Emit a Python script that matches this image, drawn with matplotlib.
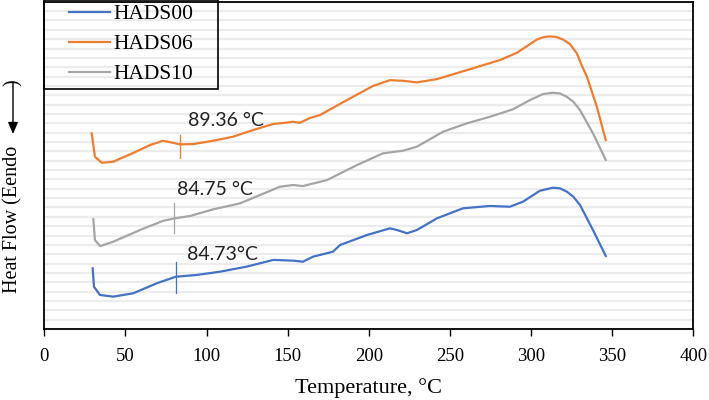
import matplotlib

matplotlib.use("Agg")
import matplotlib.pyplot as plt
from matplotlib.patches import Rectangle

# DSC curves (temperature in degC, heat flow in arbitrary units)
t_hads06 = [29.2, 31.2, 35.4, 42.3, 54.7, 65.1, 73.1, 79.3, 83.6, 91.6, 103.9, 116.3,
            128.6, 140.9, 145.2, 153.2, 157.5, 163.7, 169.9, 188.4, 202.5, 213.0, 221.0,
            229.6, 242.0, 260.4, 280.8, 291.2, 303.6, 307.9, 311.6, 315.3, 319.6, 323.9,
            328.2, 331.1, 334.4, 340.5, 346.0]
hf_hads06 = [20.93, 18.43, 17.78, 17.89, 18.82, 19.67, 20.13, 19.92, 19.75, 19.78, 20.13, 20.57,
             21.28, 21.92, 22.00, 22.16, 22.06, 22.57, 22.89, 24.67, 25.99, 26.62, 26.55,
             26.38, 26.73, 27.69, 28.77, 29.54, 30.97, 31.23, 31.30, 31.25, 30.97, 30.48,
             29.48, 28.23, 26.98, 23.77, 20.21]

t_hads10 = [30.2, 31.2, 34.3, 42.5, 59.0, 73.3, 80.5, 89.8, 104.1, 120.6, 132.9, 145.2,
            153.4, 159.4, 174.2, 192.7, 208.7, 221.0, 229.6, 245.7, 260.4, 274.6, 288.8,
            299.3, 307.3, 313.4, 317.7, 322.0, 326.0, 330.1, 338.1, 346.0]
hf_hads10 = [11.74, 9.52, 8.87, 9.34, 10.59, 11.58, 11.84, 12.09, 12.80, 13.44, 14.33, 15.22,
             15.40, 15.29, 15.93, 17.54, 18.79, 19.07, 19.50, 21.10, 22.00, 22.70, 23.50,
             24.49, 25.13, 25.27, 25.20, 24.84, 24.31, 23.42, 20.93, 18.08]

t_hads00 = [29.8, 30.6, 34.3, 42.5, 54.8, 69.3, 81.0, 93.9, 108.3, 124.7, 141.1, 153.4,
            159.4, 165.7, 177.9, 182.2, 198.8, 213.0, 217.3, 223.5, 229.6, 242.0, 258.0,
            274.6, 286.9, 295.0, 305.4, 313.4, 317.7, 322.0, 326.0, 330.1, 338.1, 346.0]
hf_hads00 = [6.49, 4.52, 3.64, 3.46, 3.82, 4.89, 5.59, 5.78, 6.13, 6.67, 7.39, 7.31,
             7.20, 7.74, 8.27, 8.98, 10.05, 10.77, 10.59, 10.24, 10.59, 11.84, 12.91,
             13.16, 13.08, 13.62, 14.79, 15.11, 15.05, 14.69, 14.15, 13.27, 10.59, 7.81]

# glass transition markers: x position, lower and upper end of the tick line
tg_x = [81.0, 83.6, 80.1]
tg_lo = [3.82, 18.25, 10.24]
tg_hi = [7.20, 20.74, 13.44]
tg_text = ["84.73°C", "89.36 °C", "84.75 °C"]
tg_text_xy = [(87.7, 8.02), (88.7, 22.33), (82.0, 14.94)]

labels = ["HADS00", "HADS06", "HADS10"]
colors = ["#4472C4", "#ED7D31", "#A5A5A5"]

plt.rcParams["font.family"] = "Liberation Serif"

fig = plt.figure(figsize=(7.09, 4.0), dpi=100)
ax = fig.add_axes([0.0625, 0.1775, 0.9155, 0.818])

curves = [(t_hads00, hf_hads00), (t_hads06, hf_hads06), (t_hads10, hf_hads10)]
for (t, hf), lab, c in zip(curves, labels, colors):
    ax.plot(t, hf, color=c, lw=1.6, label=lab, solid_joinstyle="round")

for x, lo, hi, c in zip(tg_x, tg_lo, tg_hi, colors):
    ax.plot([x, x], [lo, hi], color=c, lw=0.9)

for txt, (x, y) in zip(tg_text, tg_text_xy):
    ax.text(x, y, txt, family="Lato", fontsize=14, va="center", ha="left", color="#222222")

ax.set_xlim(0, 400)
ax.set_ylim(0, 35)
ax.set_xticks(range(0, 401, 50))
ax.set_yticks(range(0, 36))
ax.set_yticklabels([])
ax.tick_params(axis="y", length=0)
ax.tick_params(axis="x", direction="out", length=5, width=1, labelsize=13.5, pad=9)
ax.grid(axis="y", color="#ececec", lw=1.6)
ax.set_axisbelow(True)
for s in ax.spines.values():
    s.set_linewidth(1.3)
    s.set_color("black")

ax.set_xlabel("Temperature, °C", fontsize=16, labelpad=9)

# y label: text, long arrow pointing down, closing paren
fig.text(13, 107, "Heat Flow (Eendo", rotation=90, ha="center", va="bottom",
         fontsize=14.5, transform=None)
ax.annotate("", xy=(13, 266), xytext=(13, 318), xycoords="figure pixels",
            textcoords="figure pixels",
            arrowprops=dict(arrowstyle="-|>,head_length=0.7,head_width=0.3",
                            color="black", lw=1.0, shrinkA=0, shrinkB=0))
fig.text(13, 314, ")", rotation=90, ha="center", va="bottom", fontsize=14.5,
         transform=None)

leg = ax.legend(loc="upper left", bbox_to_anchor=(0.038, 0.993), borderaxespad=0,
                fontsize=15.5, handlelength=1.9, handletextpad=0.15, labelspacing=0.46,
                borderpad=0, frameon=False)
ax.add_patch(Rectangle((0, 0.733), 0.2675, 0.272, transform=ax.transAxes,
                       fill=False, edgecolor="black", lw=1.2, clip_on=False, zorder=5))

fig.savefig("out.png", dpi=100)
